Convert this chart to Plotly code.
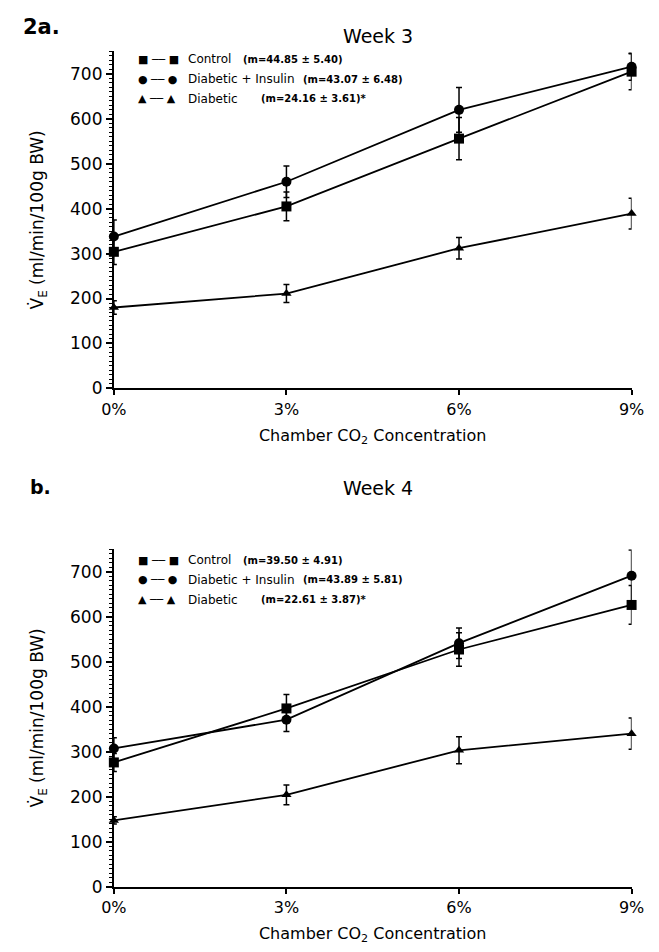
import plotly.graph_objects as go

# ---------------- data ----------------
co2 = [0, 3, 6, 9]
co2_labels = ["0%", "3%", "6%", "9%"]

w3_control = [304, 405, 556, 705]
w3_control_err = [28, 32, 47, 40]
w3_insulin = [338, 460, 620, 716]
w3_insulin_err = [37, 35, 50, 30]
w3_diabetic = [180, 211, 312, 389]
w3_diabetic_err = [15, 20, 24, 34]

w4_control = [276, 396, 527, 626]
w4_control_err = [20, 31, 37, 43]
w4_insulin = [307, 371, 541, 691]
w4_insulin_err = [24, 26, 34, 57]
w4_diabetic = [147, 204, 303, 340]
w4_diabetic_err = [8, 22, 30, 35]

groups = ["Control", "Diabetic + Insulin", "Diabetic"]
symbols = ["square", "circle", "triangle-up"]
glyphs = ["\u25A0", "\u25CF", "\u25B2"]
w3_stats = ["(m=44.85 \u00B1 5.40)", "(m=43.07 \u00B1 6.48)", "(m=24.16 \u00B1 3.61)*"]
w4_stats = ["(m=39.50 \u00B1 4.91)", "(m=43.89 \u00B1 5.81)", "(m=22.61 \u00B1 3.87)*"]

FONT = "DejaVu Sans"
W, H = 659, 952

fig = go.Figure()

panels = [
    ("x", "y", [w3_control, w3_insulin, w3_diabetic],
     [w3_control_err, w3_insulin_err, w3_diabetic_err]),
    ("x2", "y2", [w4_control, w4_insulin, w4_diabetic],
     [w4_control_err, w4_insulin_err, w4_diabetic_err]),
]
for xa, ya, series, errs in panels:
    for g, sym, vals, err in zip(groups, symbols, series, errs):
        fig.add_trace(go.Scatter(
            x=co2, y=vals, xaxis=xa, yaxis=ya, name=g, mode="lines+markers",
            line=dict(color="black", width=1.8),
            marker=dict(symbol=sym, size=10 if sym != "triangle-up" else 9, color="black"),
            error_y=dict(type="data", array=err, visible=True, color="black",
                         thickness=1.5, width=3),
            cliponaxis=False, showlegend=False))


def px_x(p):
    return p / W


def px_y(p):
    return 1 - p / H


xdom = [px_x(105), px_x(644)]
top_dom = [px_y(392.5), px_y(52)]
bot_dom = [px_y(896), px_y(555)]

xaxis_common = dict(
    range=[0, 9], tickvals=co2, ticktext=co2_labels, showgrid=False, zeroline=False,
    showline=True, linecolor="black", linewidth=2, ticks="outside", ticklen=5,
    tickwidth=1.5, tickcolor="black",
    tickfont=dict(family=FONT, size=16, color="black"),
    title=dict(text="Chamber CO<sub>2</sub> Concentration",
               font=dict(family=FONT, size=16, color="black"), standoff=12),
)
yaxis_common = dict(
    range=[0, 750], dtick=100, tick0=0, showgrid=False, zeroline=False,
    showline=True, linecolor="black", linewidth=2, ticks="outside", ticklen=6,
    tickwidth=1.5, tickcolor="black",
    minor=dict(dtick=10, ticks="outside", ticklen=3, tickcolor="black", tickwidth=1),
    tickfont=dict(family=FONT, size=17, color="black"),
    title=dict(text="V\u0307<sub>E</sub> (ml/min/100g BW)",
               font=dict(family=FONT, size=17, color="black"), standoff=22),
)

fig.update_layout(
    width=W, height=H, margin=dict(l=0, r=0, t=0, b=0),
    paper_bgcolor="white", plot_bgcolor="white",
    xaxis=dict(domain=xdom, anchor="y", **xaxis_common),
    yaxis=dict(domain=top_dom, anchor="x", **yaxis_common),
    xaxis2=dict(domain=xdom, anchor="y2", **xaxis_common),
    yaxis2=dict(domain=bot_dom, anchor="x2", **yaxis_common),
)

ann = []
ann.append(dict(text="<b>2a.</b>", x=px_x(8), y=px_y(27), xref="paper", yref="paper",
                xanchor="left", yanchor="middle", showarrow=False,
                font=dict(family=FONT, size=21, color="black")))
ann.append(dict(text="<b>b.</b>", x=px_x(16), y=px_y(492), xref="paper", yref="paper",
                xanchor="left", yanchor="middle", showarrow=False,
                font=dict(family=FONT, size=19, color="black")))
ann.append(dict(text="Week 3", x=px_x(380), y=px_y(36), xref="paper", yref="paper",
                xanchor="center", yanchor="middle", showarrow=False,
                font=dict(family=FONT, size=19, color="black")))
ann.append(dict(text="Week 4", x=px_x(380), y=px_y(493), xref="paper", yref="paper",
                xanchor="center", yanchor="middle", showarrow=False,
                font=dict(family=FONT, size=19, color="black")))

# legend keys drawn as text glyphs; stats placed after each name
stat_x = [237, 300, 256]
for top, stats in [(60, w3_stats), (566, w4_stats)]:
    for i, (gly, g, s) in enumerate(zip(glyphs, groups, stats)):
        yy = top + i * 20
        ann.append(dict(
            text=f"{gly} \u2500\u2500 {gly}", x=px_x(128), y=px_y(yy),
            xref="paper", yref="paper", xanchor="left", yanchor="middle",
            showarrow=False, font=dict(family=FONT, size=11, color="black")))
        ann.append(dict(
            text=g, x=px_x(180), y=px_y(yy), xref="paper", yref="paper",
            xanchor="left", yanchor="middle", showarrow=False,
            font=dict(family=FONT, size=12, color="black")))
        ann.append(dict(
            text=f"<b>{s}</b>", x=px_x(stat_x[i]), y=px_y(yy), xref="paper",
            yref="paper", xanchor="left", yanchor="middle", showarrow=False,
            font=dict(family=FONT, size=10, color="black")))

fig.update_layout(annotations=ann)
fig.write_html("out.html")
